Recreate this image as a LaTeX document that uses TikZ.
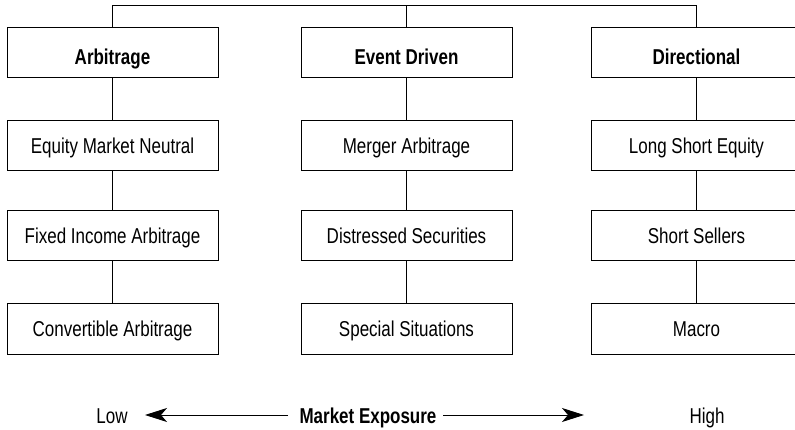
\documentclass[tikz,border=0pt]{standalone}
\usepackage{fontspec}
\setmainfont{Liberation Sans}[FakeStretch=0.79]
\usetikzlibrary{arrows.meta}
\begin{document}
\begin{tikzpicture}[x=1pt,y=-1pt,
  catbox/.style={draw=black, line width=1pt, minimum width=211pt, minimum height=50pt,
    inner sep=0pt, text height=15.4pt, text depth=0pt, font=\fontsize{21.5}{24}\selectfont},
  headbox/.style={catbox, text height=22.4pt, font=\fontsize{21.5}{24}\selectfont\bfseries},
  link/.style={draw=black, line width=0.9pt},
  exposurearrow/.style={draw=black, line width=0.9pt, -{Stealth[length=22pt,width=14pt,inset=6pt]}},
  axistext/.style={font=\fontsize{21.5}{24}\selectfont, inner sep=0pt, text height=15.4pt, text depth=0pt}]
\useasboundingbox (0,0) rectangle (795,430);
\clip (0,0) rectangle (795,430);

% column heads
\node[headbox] (arb) at (112.5,53) {Arbitrage};
\node[headbox] (evt) at (406.5,53) {Event Driven};
\node[headbox] (dir) at (696.5,53) {Directional};

% strategies
\node[catbox] (emn) at (112.5,146) {Equity Market Neutral};
\node[catbox] (fia) at (112.5,236) {Fixed Income Arbitrage};
\node[catbox] (cva) at (112.5,329) {Convertible Arbitrage};
\node[catbox] (mer) at (406.5,146) {Merger Arbitrage};
\node[catbox] (dis) at (406.5,236) {Distressed Securities};
\node[catbox] (spe) at (406.5,329) {Special Situations};
\node[catbox] (lse) at (696.5,146) {Long Short Equity};
\node[catbox] (sho) at (696.5,236) {Short Sellers};
\node[catbox] (mac) at (696.5,329) {Macro};

% top bracket joining the three heads
\coordinate (t1) at (112.5,5);
\coordinate (t3) at (696.5,5);
\draw[link] (arb.north) -- (t1) -- (t3) -- (dir.north);
\draw[link] (evt.north) -- (evt.north |- t1);

% vertical links
\draw[link] (arb) -- (emn) (emn) -- (fia) (fia) -- (cva);
\draw[link] (evt) -- (mer) (mer) -- (dis) (dis) -- (spe);
\draw[link] (dir) -- (lse) (lse) -- (sho) (sho) -- (mac);

% exposure scale
\node[axistext] (low) at (112,416) {Low};
\node[axistext, font=\fontsize{21.5}{24}\selectfont\bfseries] (mkt) at (368,416) {Market Exposure};
\node[axistext] (high) at (707,416) {High};
\coordinate (ls) at (288,415);
\coordinate (la) at (145,415);
\coordinate (rs) at (443,415);
\coordinate (ra) at (584,415);
\draw[exposurearrow] (ls) -- (la);
\draw[exposurearrow] (rs) -- (ra);
\end{tikzpicture}
\end{document}
